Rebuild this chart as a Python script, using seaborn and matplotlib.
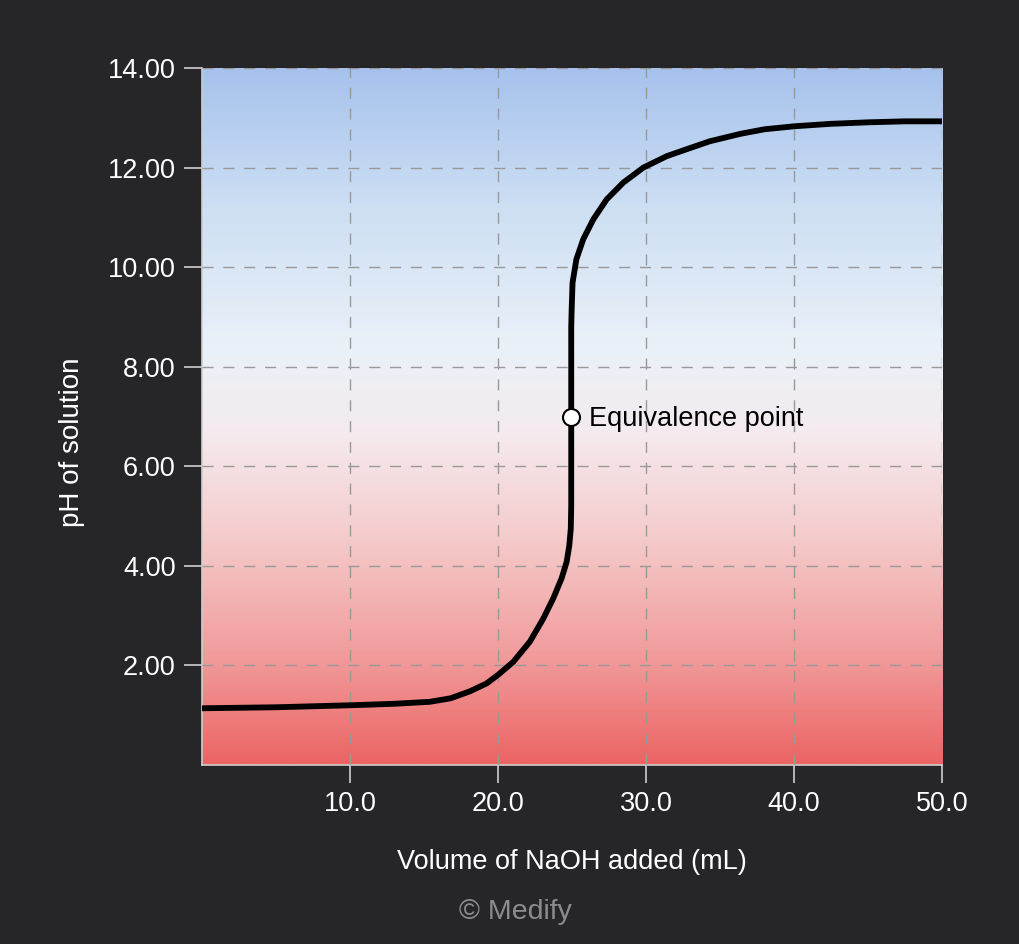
import numpy as np
import pandas as pd
import matplotlib
matplotlib.use("Agg")
import matplotlib.pyplot as plt
from matplotlib.colors import LinearSegmentedColormap
import seaborn as sns

# ---- data ----
volume_ml = [0, 5, 10, 13, 15.4, 16.8, 18.1, 19.24, 20.0, 21.03, 22.16, 23.06,
             23.74, 24.3, 24.64, 24.82, 24.92, 24.95, 24.95, 24.98, 25.04, 25.3,
             25.76, 26.44, 27.34, 28.47, 29.82, 31.4, 32.75, 34.32, 36.4, 38,
             40, 42.5, 45, 47.5, 50]
ph_values = [1.14, 1.16, 1.20, 1.23, 1.27, 1.34, 1.48, 1.64, 1.81, 2.07, 2.48, 2.94,
             3.35, 3.75, 4.08, 4.41, 4.75, 5.2, 8.8, 9.16, 9.69, 10.16,
             10.56, 10.96, 11.36, 11.70, 12.0, 12.23, 12.37, 12.53, 12.68, 12.77,
             12.83, 12.88, 12.91, 12.93, 12.93]
equiv_x = [24.95]
equiv_y = [7.0]
x_ticks = [10, 20, 30, 40, 50]
y_ticks = [2, 4, 6, 8, 10, 12, 14]

df = pd.DataFrame({"vol": volume_ml, "ph": ph_values})
eq = pd.DataFrame({"vol": equiv_x, "ph": equiv_y})

sns.set_style("ticks")
plt.rcParams["font.family"] = ["Liberation Sans", "DejaVu Sans"]

BG = "#262628"
fig = plt.figure(figsize=(10.2, 9.44), dpi=100, facecolor=BG)
ax = fig.add_axes([0.198, 0.1896, 0.7255, 0.7383])
ax.set_facecolor(BG)

# gradient background
cmap = LinearSegmentedColormap.from_list("phbg", [
    (0.0, "#ec6464"), (0.15, "#f19a9a"), (0.33, "#f5cccc"), (0.48, "#f4ebef"),
    (0.6, "#eaf1f8"), (0.8, "#cddff3"), (1.0, "#a6c2ec")])
grad = np.linspace(0, 1, 512).reshape(-1, 1)
ax.imshow(grad, extent=[0, 50, 0, 14], origin="lower", aspect="auto",
          cmap=cmap, zorder=0, interpolation="bilinear")

ax.set_xlim(0, 50)
ax.set_ylim(0, 14)
ax.set_xticks(x_ticks)
ax.set_yticks(y_ticks)
ax.set_xticklabels([f"{v:.1f}" for v in x_ticks])
ax.set_yticklabels([f"{v:.2f}" for v in y_ticks])

ax.grid(True, color="#999999", linestyle=(0, (8, 7)), linewidth=1.0, zorder=1)
ax.set_axisbelow(False)

sns.lineplot(data=df, x="vol", y="ph", sort=False, estimator=None, color="black",
             linewidth=4.2, ax=ax, zorder=3)
line = ax.get_lines()[-1]
line.set_solid_joinstyle("round")
line.set_solid_capstyle("butt")
sns.scatterplot(data=eq, x="vol", y="ph", s=150, color="white", edgecolor="black",
                linewidth=1.5, ax=ax, zorder=4)
ax.text(26.15, 6.95, "Equivalence point", fontsize=19.5, color="black",
        va="center", ha="left", zorder=5)

for side in ["top", "right"]:
    ax.spines[side].set_visible(False)
for side in ["left", "bottom"]:
    ax.spines[side].set_color("#cfcfcf")
    ax.spines[side].set_linewidth(1.2)

ax.tick_params(axis="both", colors="#cfcfcf", length=13, width=1.2, pad=6,
               labelsize=19.5, labelcolor="white")

ax.set_xlabel("Volume of NaOH added (mL)", fontsize=19.5, color="white")
ax.set_ylabel("pH of solution", fontsize=20, color="white")
ax.xaxis.set_label_coords(0.5, -0.12)
ax.yaxis.set_label_coords(-0.158, 0.463)
ax.yaxis.label.set_va("bottom")

fig.text(515 / 1020, 1 - 912 / 944, "© Medify", fontsize=20.5, color="#8c8c8c",
         ha="center", va="center")

fig.savefig("out.png", dpi=100, facecolor=BG)
